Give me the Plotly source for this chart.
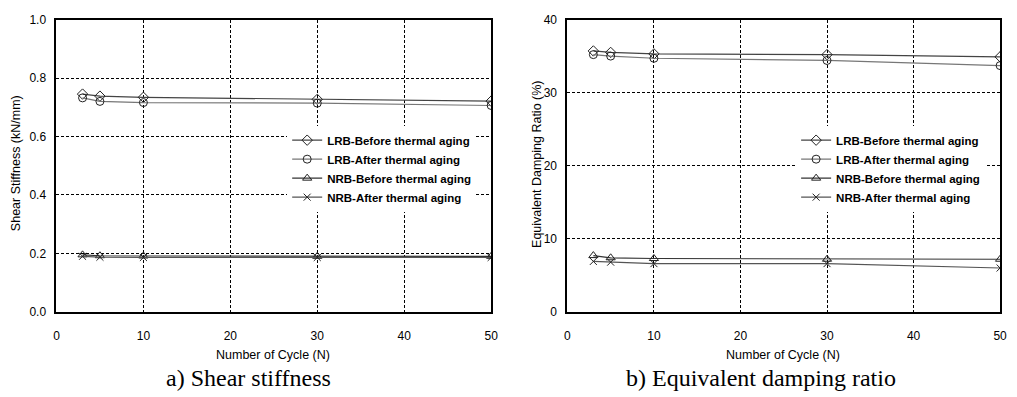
import plotly.graph_objects as go

cycles = [3, 5, 10, 30, 50]
series_names = ["LRB-Before thermal aging", "LRB-After thermal aging",
                "NRB-Before thermal aging", "NRB-After thermal aging"]

stiff_lrb_before = [0.745, 0.738, 0.734, 0.727, 0.721]
stiff_lrb_after = [0.732, 0.720, 0.716, 0.714, 0.706]
stiff_nrb_before = [0.195, 0.192, 0.191, 0.190, 0.190]
stiff_nrb_after = [0.190, 0.187, 0.186, 0.186, 0.186]

damp_lrb_before = [35.7, 35.5, 35.3, 35.2, 34.9]
damp_lrb_after = [35.2, 35.0, 34.7, 34.4, 33.7]
damp_nrb_before = [7.7, 7.4, 7.3, 7.2, 7.2]
damp_nrb_after = [6.9, 6.8, 6.6, 6.6, 6.0]

x_ticks = [0, 10, 20, 30, 40, 50]
stiff_ticks = [0.0, 0.2, 0.4, 0.6, 0.8, 1.0]
damp_ticks = [0, 10, 20, 30, 40]

symbols = ["diamond-open", "circle-open", "triangle-up-open", "x-thin-open"]
line_colors = ["#444444", "#777777", "#333333", "#555555"]

W, H = 1017, 397
fig = go.Figure()

def add_series(data, xa, ya, legend):
    for i, (vals, name) in enumerate(zip(data, series_names)):
        fig.add_trace(go.Scatter(
            x=cycles, y=vals, name=name, mode="lines+markers",
            xaxis=xa, yaxis=ya, legend=legend,
            line=dict(color=line_colors[i], width=1.2),
            marker=dict(symbol=symbols[i], size=8 if i != 3 else 7,
                        color="#222222", line=dict(width=1, color="#222222")),
        ))

add_series([stiff_lrb_before, stiff_lrb_after, stiff_nrb_before, stiff_nrb_after], "x", "y", "legend")
add_series([damp_lrb_before, damp_lrb_after, damp_nrb_before, damp_nrb_after], "x2", "y2", "legend2")

ydom = [1 - 316 / H, 1 - 13 / H]
SANS = "Liberation Sans, Arial"
font_tick = dict(family=SANS, size=12, color="black")
font_title = dict(family=SANS, size=12.5, color="black")
font_leg = dict(family=SANS, size=11.5, color="black", weight="bold")
font_cap = dict(family="Liberation Serif, Times New Roman", size=24, color="black")

axis_common = dict(showline=True, linewidth=2, linecolor="black", mirror=True,
                   showgrid=True, gridcolor="black", gridwidth=1, griddash="3px,2px",
                   ticks="", tickfont=font_tick, zeroline=False)

fig.update_layout(
    width=W, height=H, margin=dict(l=0, r=0, t=0, b=0),
    plot_bgcolor="white", paper_bgcolor="white",
    xaxis=dict(domain=[54 / W, 493 / W], range=[0, 50], tickvals=x_ticks,
               ticklabelstandoff=12, anchor="y", **axis_common),
    yaxis=dict(domain=ydom, range=[0, 1.0], tickvals=stiff_ticks, tickformat=".1f",
               ticklabelstandoff=6, anchor="x", **axis_common),
    xaxis2=dict(domain=[570 / W, 1007 / W], range=[0, 50], tickvals=x_ticks,
                ticklabelstandoff=12, anchor="y2", **axis_common),
    yaxis2=dict(domain=ydom, range=[0, 40], tickvals=damp_ticks,
                ticklabelstandoff=6, anchor="x2", **axis_common),
    legend=dict(x=287 / W, y=1 - 123 / H, xanchor="left", yanchor="top",
                bgcolor="white", font=font_leg, itemwidth=30, tracegroupgap=0),
    legend2=dict(x=801 / W, y=1 - 123 / H, xanchor="left", yanchor="top",
                 bgcolor="white", font=font_leg, itemwidth=30, tracegroupgap=0),
    showlegend=True,
    annotations=[
        dict(text="Shear Stiffness (kN/mm)", x=13 / W, y=1 - 162 / H, xref="paper", yref="paper",
             xanchor="center", yanchor="middle", textangle=-90, showarrow=False, font=font_title),
        dict(text="Equivalent Damping Ratio (%)", x=540 / W, y=1 - 163 / H, xref="paper", yref="paper",
             xanchor="center", yanchor="middle", textangle=-90, showarrow=False, font=font_title),
        dict(text="Number of Cycle (N)", x=273 / W, y=1 - 361 / H, xref="paper", yref="paper",
             xanchor="center", yanchor="middle", showarrow=False, font=font_title),
        dict(text="Number of Cycle (N)", x=788 / W, y=1 - 361 / H, xref="paper", yref="paper",
             xanchor="center", yanchor="middle", showarrow=False, font=font_title),
        dict(text="a) Shear stiffness", x=248 / W, y=1 - 385 / H, xref="paper", yref="paper",
             xanchor="center", yanchor="middle", showarrow=False, font=font_cap),
        dict(text="b) Equivalent damping ratio", x=766 / W, y=1 - 385 / H, xref="paper", yref="paper",
             xanchor="center", yanchor="middle", showarrow=False, font=font_cap),
    ],
)

fig.write_html("out.html")
